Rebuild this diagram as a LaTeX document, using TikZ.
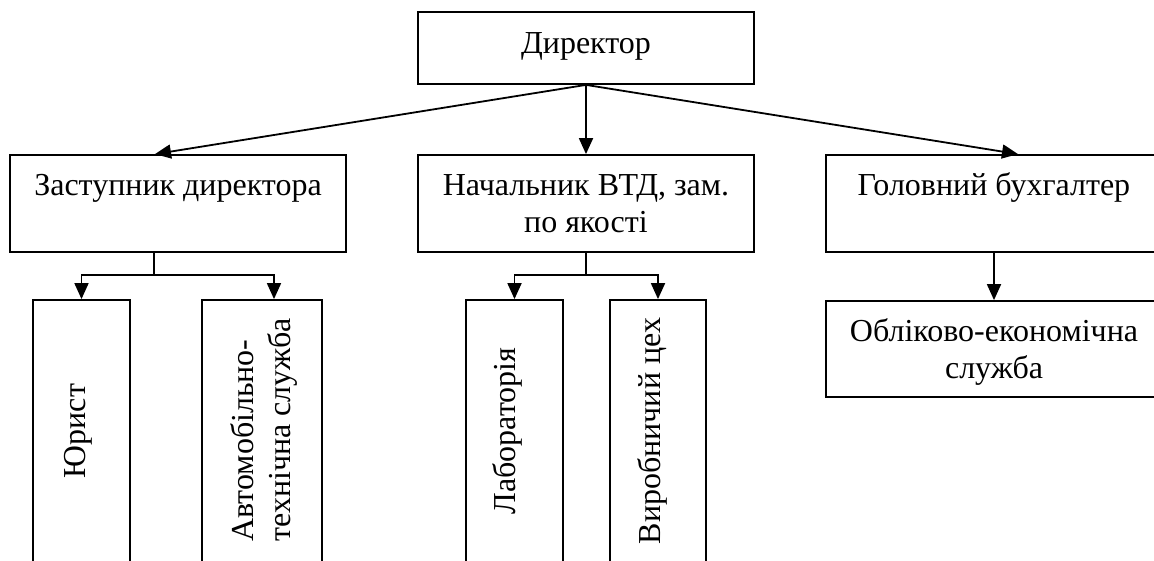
\documentclass[tikz,border=0pt]{standalone}
\usepackage{fontspec}
\setmainfont{Liberation Serif}
\usetikzlibrary{arrows.meta,calc}
\begin{document}
\begin{tikzpicture}[x=1pt,y=-1pt,line width=1.8pt,
  box/.style={draw,rectangle,inner sep=0pt},
  lbl/.style={inner sep=0pt,font=\fontsize{32}{37}\selectfont},
  arr/.style={-{Triangle[length=16pt,width=14pt]}}]
\useasboundingbox (0,0) rectangle (1154,561);
\clip (0,0) rectangle (1154,561);
% top level
\node[box,minimum width=336pt,minimum height=72pt] (dir) at (586,48) {};
\node[lbl,anchor=base] (dirt) at (586,54) {Директор};
% second level
\node[box,minimum width=336pt,minimum height=97pt] (zast) at (178,203.5) {};
\node[box,minimum width=336pt,minimum height=97pt] (nach) at (586,203.5) {};
\node[box,minimum width=336pt,minimum height=97pt] (hol) at (994,203.5) {};
\node[lbl,anchor=base] (zastt) at ([yshift=-41pt]zast.north) {Заступник директора};
\node[lbl,anchor=base,align=center] (nacht) at ([yshift=-78pt]nach.north) {Начальник ВТД, зам.\\по якості};
\node[lbl,anchor=base] (holt) at ([yshift=-41pt]hol.north) {Головний бухгалтер};
% third level
\node[box,minimum width=97pt,minimum height=264pt] (yur) at (81.5,432) {};
\node[box,minimum width=120pt,minimum height=264pt] (avto) at (262,432) {};
\node[box,minimum width=97pt,minimum height=264pt] (lab) at (514.5,432) {};
\node[box,minimum width=96pt,minimum height=264pt] (vyr) at (658,432) {};
\node[box,minimum width=336pt,minimum height=96pt] (obl) at (994,349) {};
\node[lbl,anchor=base,align=center] (oblt) at (994,378) {Обліково-економічна\\служба};
\node[lbl,rotate=90] (yurt) at (78,431) {Юрист};
\node[lbl,rotate=90,align=left] (avtot) at (264,430) {Автомобільно-\\технічна служба};
\node[lbl,rotate=90] (labt) at (507,431) {Лабораторія};
\node[lbl,rotate=90] (vyrt) at (652,431) {Виробничий цех};
% connectors from director
\draw[arr] (dir.south) -- ([xshift=-23pt]zast.north);
\draw[arr] (dir.south) -- (nach.north);
\draw[arr] (dir.south) -- ([xshift=24pt]hol.north);
% zast branch
\coordinate (zj) at (154,275);
\draw ([xshift=-24pt]zast.south) -- (zj);
\draw[arr] (zj) -| (yur.north);
\draw[arr] (zj) -| ([xshift=12pt]avto.north);
% nach branch
\coordinate (nj) at (586,275);
\draw (nach.south) -- (nj);
\draw[arr] (nj) -| (lab.north);
\draw[arr] (nj) -| (vyr.north);
% hol branch
\draw[arr] (hol.south) -- (obl.north);
\end{tikzpicture}
\end{document}
